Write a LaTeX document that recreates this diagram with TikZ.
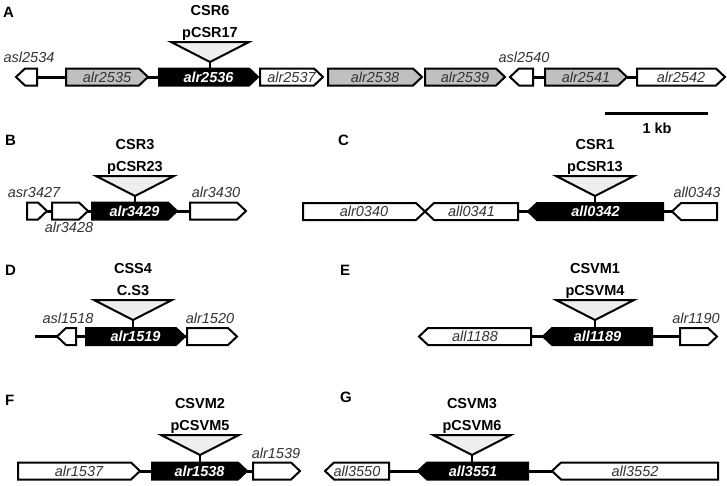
\documentclass[tikz,border=0pt]{standalone}
\usepackage{fontspec}
\setmainfont{Liberation Sans}
\newcommand\fs{\fontsize{14.5}{17}\selectfont}
\definecolor{genegray}{HTML}{C0C0C0}
\definecolor{insgray}{HTML}{EEEEEE}
\definecolor{labgray}{HTML}{333333}
\tikzset{
  gbox/.style={draw=none,inner sep=0pt,outer sep=0pt,minimum height=17pt},
  gline/.style={draw=black,line width=2pt,line join=miter},
  gwhite/.style={fill=white},
  ggray/.style={fill=genegray},
  gblack/.style={fill=black},
  itl/.style={font=\fs\itshape,text=labgray,inner sep=0pt},
  bitl/.style={font=\fs\bfseries\itshape,text=white,inner sep=0pt},
  bld/.style={font=\fs\bfseries,text=black,inner sep=0pt,anchor=base},
  panel/.style={font=\fontsize{15}{18}\selectfont\bfseries,inner sep=0pt,anchor=base west},
  conn/.style={draw=black,line width=3pt},
  insf/.style={draw=black,fill=insgray,line width=2pt,line join=miter},
  stem/.style={draw=black,line width=2pt},
}
% right-pointing gene
\newcommand\gR[7]{%
  \node[gbox,minimum width={#3-#2}] (#1) at ({(#2+#3)/2},#4) {};
  \draw[gline,#5] (#1.north west) -- ([xshift=-9pt]#1.north east) -- (#1.east) -- ([xshift=-9pt]#1.south east) -- (#1.south west) -- cycle;
  \node[#6] (#1-t) at (#1.center) {#7};}
% left-pointing gene
\newcommand\gL[7]{%
  \node[gbox,minimum width={#3-#2}] (#1) at ({(#2+#3)/2},#4) {};
  \draw[gline,#5] (#1.north east) -- ([xshift=9pt]#1.north west) -- (#1.west) -- ([xshift=9pt]#1.south west) -- (#1.south east) -- cycle;
  \node[#6] (#1-t) at (#1.center) {#7};}
% insertion triangle
\newcommand\ins[6]{%
  \coordinate (#1) at (#2,#3);
  \draw[stem] (#1) -- (#1 |- #4.north);
  \draw[insf] (#1) -- ++(-39,-20) -- ++(78,0) -- cycle;
  \node[bld] (#1-a) at (#2,#3-47) {#5};
  \node[bld] (#1-b) at (#2,#3-25) {#6};}
\begin{document}
\begin{tikzpicture}[x=1pt,y=-1pt]
\useasboundingbox (0,0) rectangle (727,485);
\fill[white] (0,0) rectangle (727,485);

% ---------- A ----------
\node[panel] (pA) at (3,17) {A};
\gL{asl2534}{16}{37}{77}{gwhite}{itl}{}
\gR{alr2535}{66}{148}{77}{ggray}{itl}{alr2535}
\gR{alr2536}{159}{258}{77}{gblack}{bitl}{alr2536}
\gR{alr2537}{260}{323}{77}{gwhite}{itl}{alr2537}
\gR{alr2538}{328}{422}{77}{ggray}{itl}{alr2538}
\gR{alr2539}{425}{505}{77}{ggray}{itl}{alr2539}
\gL{asl2540}{510}{533}{77}{gwhite}{itl}{}
\gR{alr2541}{545}{627}{77}{ggray}{itl}{alr2541}
\gR{alr2542}{637}{725}{77}{gwhite}{itl}{alr2542}
\draw[conn] (asl2534.east) -- (alr2535.west);
\draw[conn] (alr2535.east) -- (alr2536.west);
\draw[conn] (asl2540.east) -- (alr2541.west);
\draw[conn] (alr2541.east) -- (alr2542.west);
\node[itl,anchor=base] (l2534) at (29,62) {asl2534};
\node[itl,anchor=base] (l2540) at (524,62) {asl2540};
\ins{iA}{210}{62}{alr2536}{CSR6}{pCSR17}
\coordinate (sb1) at (605,113);
\coordinate (sb2) at (708,113);
\draw[conn] (sb1) -- (sb2);
\node[bld] (sbl) at (657,133) {1 kb};

% ---------- B ----------
\node[panel] (pB) at (5,145) {B};
\gR{asr3427}{27}{47}{211}{gwhite}{itl}{}
\gR{alr3428}{52}{88}{211}{gwhite}{itl}{}
\gR{alr3429}{92}{177}{211}{gblack}{bitl}{alr3429}
\gR{alr3430}{190}{246}{211}{gwhite}{itl}{}
\draw[conn] (asr3427.east) -- (alr3428.west);
\draw[conn] (alr3428.east) -- (alr3429.west);
\draw[conn] (alr3429.east) -- (alr3430.west);
\node[itl,anchor=base] (l3427) at (34,197) {asr3427};
\node[itl,anchor=base] (l3428) at (69,232) {alr3428};
\node[itl,anchor=base] (l3430) at (216,197) {alr3430};
\ins{iB}{135}{196}{alr3429}{CSR3}{pCSR23}

% ---------- C ----------
\node[panel] (pC) at (338,145) {C};
\gR{alr0340}{303}{425}{211.5}{gwhite}{itl}{alr0340}
\gL{all0341}{425}{518}{211.5}{gwhite}{itl}{all0341}
\gL{all0342}{528}{663}{211.5}{gblack}{bitl}{all0342}
\gL{all0343}{672}{717}{211.5}{gwhite}{itl}{}
\draw[conn] (all0341.east) -- (all0342.west);
\draw[conn] (all0342.east) -- (all0343.west);
\node[itl,anchor=base] (l0343) at (697,197) {all0343};
\ins{iC}{595}{196}{all0342}{CSR1}{pCSR13}

% ---------- D ----------
\node[panel] (pD) at (5,275) {D};
\coordinate (d0) at (35,336.5);
\gL{asl1518}{57}{76}{336.5}{gwhite}{itl}{}
\gR{alr1519}{86}{185}{336.5}{gblack}{bitl}{alr1519}
\gR{alr1520}{187}{237}{336.5}{gwhite}{itl}{}
\draw[conn] (d0) -- (asl1518.west);
\draw[conn] (asl1518.east) -- (alr1519.west);
\draw[conn] (alr1519.east) -- (alr1520.west);
\node[itl,anchor=base] (l1518) at (68,323) {asl1518};
\node[itl,anchor=base] (l1520) at (210,323) {alr1520};
\ins{iD}{133}{320}{alr1519}{CSS4}{C.S3}

% ---------- E ----------
\node[panel] (pE) at (340,275) {E};
\gL{all1188}{419}{531}{336.5}{gwhite}{itl}{all1188}
\gL{all1189}{543}{652}{336.5}{gblack}{bitl}{all1189}
\gR{alr1190}{680}{717}{336.5}{gwhite}{itl}{}
\draw[conn] (all1188.east) -- (all1189.west);
\draw[conn] (all1189.east) -- (alr1190.west);
\node[itl,anchor=base] (l1190) at (696,323) {alr1190};
\ins{iE}{595}{320}{all1189}{CSVM1}{pCSVM4}

% ---------- F ----------
\node[panel] (pF) at (5,405) {F};
\gR{alr1537}{18}{140}{471}{gwhite}{itl}{alr1537}
\gR{alr1538}{152}{247}{471}{gblack}{bitl}{alr1538}
\gR{alr1539}{253}{300}{471}{gwhite}{itl}{}
\draw[conn] (alr1537.east) -- (alr1538.west);
\draw[conn] (alr1538.east) -- (alr1539.west);
\node[itl,anchor=base] (l1539) at (276,458) {alr1539};
\ins{iF}{200}{455}{alr1538}{CSVM2}{pCSVM5}

% ---------- G ----------
\node[panel] (pG) at (340,402) {G};
\gL{all3550}{325}{389}{471}{gwhite}{itl}{all3550}
\gL{all3551}{418}{528}{471}{gblack}{bitl}{all3551}
\gL{all3552}{552}{718}{471}{gwhite}{itl}{all3552}
\draw[conn] (all3550.east) -- (all3551.west);
\draw[conn] (all3551.east) -- (all3552.west);
\ins{iG}{472}{455}{all3551}{CSVM3}{pCSVM6}
\end{tikzpicture}
\end{document}
